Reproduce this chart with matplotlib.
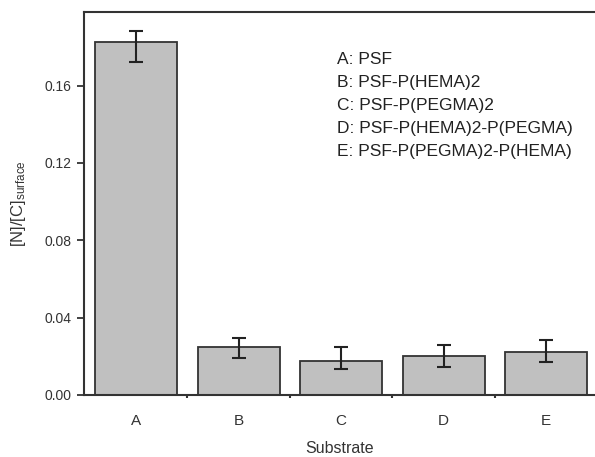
import numpy as np
import matplotlib
matplotlib.use("Agg")
import matplotlib.pyplot as plt

plt.rcParams['font.family'] = ['Liberation Sans', 'DejaVu Sans']
plt.rcParams['mathtext.fontset'] = 'custom'
plt.rcParams['mathtext.rm'] = 'Liberation Sans'
plt.rcParams['mathtext.it'] = 'Liberation Sans:italic'

# datos
sustratos = ["A", "B", "C", "D", "E"]
valores = [0.1826, 0.0250, 0.0178, 0.0200, 0.0221]
err_inf = [0.0103, 0.0057, 0.0043, 0.0057, 0.0052]
err_sup = [0.0058, 0.0043, 0.0072, 0.0057, 0.0065]
leyenda = ["A: PSF",
           "B: PSF-P(HEMA)2",
           "C: PSF-P(PEGMA)2",
           "D: PSF-P(HEMA)2-P(PEGMA)",
           "E: PSF-P(PEGMA)2-P(HEMA)"]

fig = plt.figure(figsize=(5.95, 4.57), dpi=100)
ax = fig.add_axes([0.141, 0.1357, 0.859, 0.838])

x = np.arange(len(sustratos))
ax.bar(x, valores, width=0.8, color="#c0c0c0", edgecolor="#333333", linewidth=1.3, zorder=2)
ax.errorbar(x, valores, yerr=[err_inf, err_sup], fmt="none", ecolor="#222222",
            elinewidth=1.5, capsize=5, capthick=1.5, zorder=3)

ax.set_xlim(-0.51, 4.478)
ax.set_ylim(0, 0.198)
ax.set_yticks([0.00, 0.04, 0.08, 0.12, 0.16])
ax.set_yticklabels(["0.00", "0.04", "0.08", "0.12", "0.16"], fontsize=10, color="#333333")
ax.set_xticks(x)
ax.set_xticklabels(sustratos, fontsize=11, color="#333333")
ax.set_xticks(np.arange(0.5, 4.5, 1), minor=True)
ax.tick_params(axis="x", which="major", length=0, pad=14)
ax.tick_params(axis="x", which="minor", length=2.5, width=1.5, direction="out", color="#333333")
ax.tick_params(axis="y", which="major", length=5, width=1.3, direction="out", color="#333333", pad=4)

for lado in ["left", "top", "bottom"]:
    ax.spines[lado].set_linewidth(1.5)
    ax.spines[lado].set_color("#333333")
ax.spines["right"].set_visible(False)

ax.set_xlabel("Substrate", fontsize=11.5, color="#333333", labelpad=9)
ax.set_ylabel(r"[N]/[C]$_{\mathrm{surface}}$", fontsize=12, color="#333333", labelpad=12)

# leyenda como texto, una linea por sustrato
for i, linea in enumerate(leyenda):
    ax.text(0.495, 0.875 - i * 0.0595, linea, transform=ax.transAxes, fontsize=12.5,
            color="#222222", va="center", ha="left")

fig.savefig("out.png", dpi=100)
